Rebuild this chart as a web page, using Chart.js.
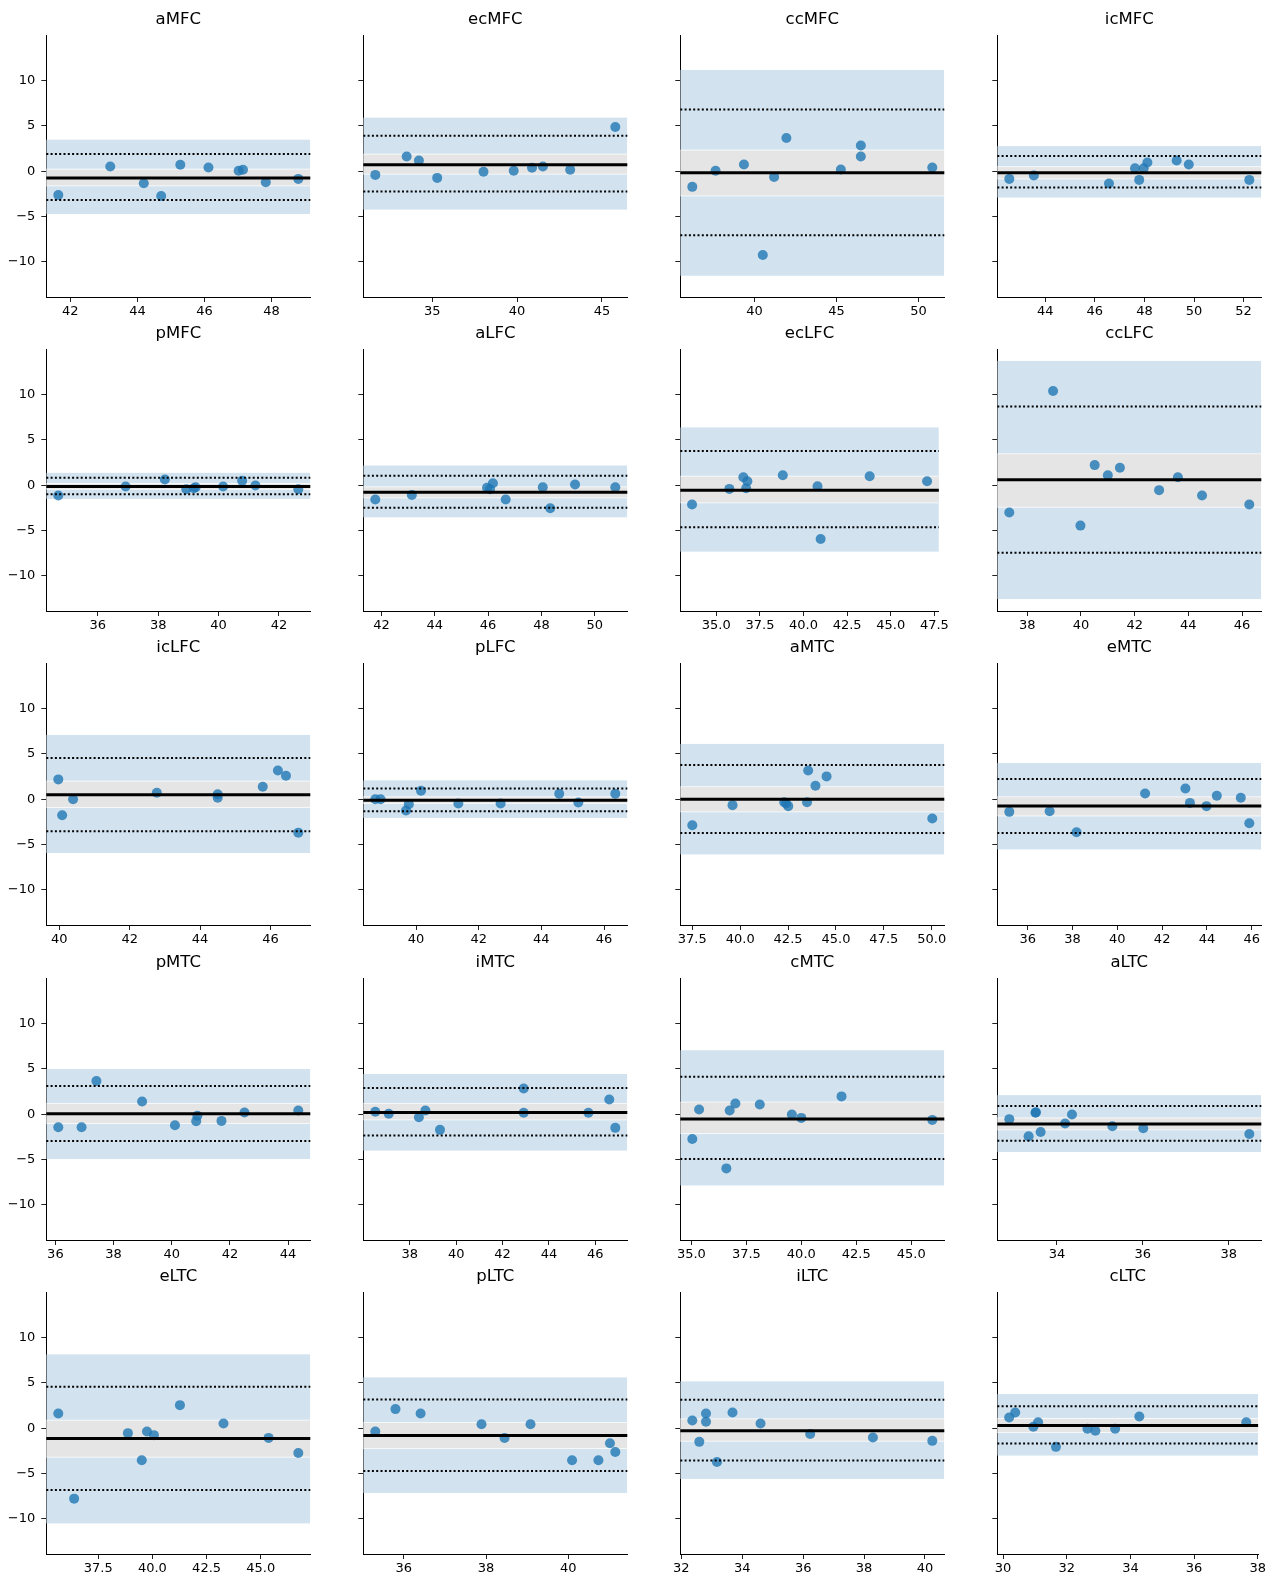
<!DOCTYPE html>
<html><head><meta charset="utf-8">
<script src="https://cdn.jsdelivr.net/npm/chart.js@4.4.0/dist/chart.umd.min.js"></script>
<style>
html,body{margin:0;padding:0;background:#fff;}
#wrap{position:relative;width:1279px;height:1580px;overflow:hidden;}
.cell{position:absolute;}
</style></head><body><div id="wrap"></div>
<script>
// ---------- DATA ----------
const panelTitles = ['aMFC','ecMFC','ccMFC','icMFC','pMFC','aLFC','ecLFC','ccLFC','icLFC','pLFC',
  'aMTC','eMTC','pMTC','iMTC','cMTC','aLTC','eLTC','pLTC','iLTC','cLTC'];

const xMeans = [
  [41.64,43.19,44.19,44.71,45.28,46.12,47.02,47.15,47.83,48.80],
  [31.64,33.49,34.21,35.29,38.02,39.80,40.88,41.52,43.13,45.79],
  [36.20,37.62,39.35,40.50,41.19,41.94,45.26,46.48,46.48,50.84],
  [42.55,43.54,46.57,47.62,47.79,47.97,48.12,49.30,49.79,52.23],
  [34.69,36.92,38.22,38.93,39.18,39.24,40.15,40.78,41.22,42.64],
  [41.77,43.14,45.96,46.07,46.18,46.66,48.05,48.33,49.26,50.77],
  [33.61,35.75,36.55,36.71,36.78,38.81,40.80,40.98,43.79,47.08],
  [37.33,38.96,39.98,40.51,41.00,41.45,42.91,43.61,44.51,46.27],
  [39.97,40.08,40.39,42.77,44.50,44.50,45.78,46.21,46.44,46.79],
  [38.70,38.87,39.68,39.77,40.16,41.35,42.70,44.57,45.18,46.36],
  [37.50,39.60,42.30,42.40,42.51,43.49,43.55,43.93,44.51,50.03],
  [35.18,36.98,38.18,41.24,43.04,43.24,43.98,44.44,45.51,45.89],
  [36.10,36.90,37.41,38.98,40.11,40.84,40.88,41.71,42.50,44.35],
  [36.51,37.09,38.39,38.67,39.30,42.91,42.91,45.70,46.60,46.86],
  [35.04,35.35,36.59,36.74,37.00,38.11,39.57,40.00,41.83,45.96],
  [32.89,33.34,33.50,33.51,33.62,34.19,34.35,35.29,36.01,38.48],
  [35.66,36.39,38.87,39.51,39.75,40.07,41.27,43.28,45.36,46.73],
  [35.31,35.80,36.41,37.89,38.45,39.08,40.09,40.73,41.01,41.14],
  [32.36,32.59,32.81,32.81,33.17,33.68,34.60,36.23,38.29,40.24],
  [30.19,30.38,30.95,31.10,31.66,32.65,32.90,33.52,34.28,37.64]
];

const yDiffs = [
  [-2.62,0.52,-1.33,-2.73,0.70,0.41,0.04,0.15,-1.22,-0.85],
  [-0.41,1.62,1.18,-0.74,-0.07,0.04,0.37,0.52,0.15,4.86],
  [-1.73,0.04,0.74,-9.25,-0.63,3.65,0.18,2.84,1.62,0.41],
  [-0.85,-0.48,-1.36,0.33,-0.96,0.33,0.96,1.18,0.74,-0.96],
  [-1.14,-0.15,0.63,-0.44,-0.33,-0.22,-0.15,0.48,-0.04,-0.44],
  [-1.58,-1.07,-0.29,-0.44,0.22,-1.58,-0.22,-2.54,0.07,-0.22],
  [-2.14,-0.41,0.88,-0.33,0.44,1.10,-0.11,-5.93,0.99,0.44],
  [-3.02,10.39,-4.46,2.21,1.10,1.92,-0.55,0.88,-1.14,-2.14],
  [2.18,-1.77,0.00,0.70,0.55,0.15,1.37,3.17,2.58,-3.69],
  [0.00,0.00,-1.25,-0.55,0.92,-0.48,-0.48,0.59,-0.37,0.59],
  [-2.88,-0.66,-0.33,-0.48,-0.77,-0.33,3.17,1.48,2.51,-2.14],
  [-1.40,-1.33,-3.65,0.63,1.18,-0.41,-0.77,0.37,0.15,-2.66],
  [-1.44,-1.44,3.65,1.40,-1.22,-0.77,-0.18,-0.74,0.18,0.41],
  [0.26,0.04,-0.33,0.41,-1.73,2.84,0.15,0.15,1.62,-1.51],
  [-2.73,0.52,-5.98,0.41,1.18,1.07,-0.04,-0.41,1.96,-0.63],
  [-0.55,-2.44,0.15,0.22,-1.96,-1.03,-0.04,-1.33,-1.55,-2.18],
  [1.62,-7.77,-0.55,-3.54,-0.37,-0.77,2.54,0.52,-1.07,-2.73],
  [-0.37,2.10,1.62,0.44,-1.07,0.44,-3.54,-3.54,-1.66,-2.62],
  [0.85,-1.51,1.62,0.70,-3.72,1.73,0.52,-0.63,-1.03,-1.40],
  [1.18,1.73,0.15,0.66,-2.06,-0.07,-0.29,-0.07,1.29,0.66]
];

const meanDiff    = [-0.74,0.70,-0.18,-0.18,-0.15,-0.77,-0.55,0.59,0.48,-0.11,0.00,-0.74,0.04,0.18,-0.52,-1.07,-1.14,-0.81,-0.29,0.29];
const upperLoA    = [1.88,3.91,6.81,1.66,0.81,1.03,3.76,8.66,4.54,1.18,3.76,2.21,3.10,2.88,4.13,0.89,4.57,3.17,3.13,2.43];
const lowerLoA    = [-3.17,-2.25,-7.07,-1.81,-0.99,-2.50,-4.64,-7.44,-3.54,-1.33,-3.73,-3.73,-2.95,-2.36,-4.94,-2.92,-6.81,-4.71,-3.57,-1.69];
const loaCITop    = [3.47,5.90,11.16,2.76,1.36,2.17,6.37,13.70,7.08,2.07,6.09,3.99,4.98,4.43,7.05,2.10,8.14,5.60,5.16,3.76];
const meanCIHigh  = [0.22,1.88,2.32,0.50,0.18,-0.18,0.99,3.46,1.99,0.26,1.37,0.26,1.18,1.18,1.33,-0.41,0.88,0.63,1.03,1.07];
const meanCILow   = [-1.62,-0.33,-2.73,-0.85,-0.45,-1.40,-1.95,-2.43,-0.92,-0.48,-1.40,-1.85,-1.03,-0.63,-2.14,-1.73,-3.20,-2.25,-1.44,-0.48];
const loaCIBottom = [-4.72,-4.24,-11.53,-2.91,-1.51,-3.54,-7.33,-12.56,-5.94,-2.07,-6.09,-5.54,-4.94,-4.02,-7.86,-4.17,-10.50,-7.15,-5.60,-3.02];

const xTickValues = [
  [42,44,46,48],[35,40,45],[40,45,50],[44,46,48,50,52],
  [36,38,40,42],[42,44,46,48,50],[35,37.5,40,42.5,45,47.5],[38,40,42,44,46],
  [40,42,44,46],[40,42,44,46],[37.5,40,42.5,45,47.5,50],[36,38,40,42,44,46],
  [36,38,40,42,44],[38,40,42,44,46],[35,37.5,40,42.5,45],[34,36,38],
  [37.5,40,42.5,45],[36,38,40],[32,34,36,38,40],[30,32,34,36,38]
];
const yTickValues = [-10,-5,0,5,10];

// ---------- LAYOUT ----------
const COLS = 4, COL_STEP = 317, ROW_STEP = 314.2;
const AXIS_W = 46.3, PLOT_W = 264, PAD_TOP = 35, PLOT_H = 262, XAX_H = 23;
const CANVAS_W = 317, CANVAS_H = PAD_TOP + PLOT_H + XAX_H;

const yLo = Math.min(...loaCIBottom), yHi = Math.max(...loaCITop);
const Y_MIN = yLo - 0.05*(yHi-yLo), Y_MAX = yHi + 0.05*(yHi-yLo);

Chart.defaults.font.family = "'DejaVu Sans', sans-serif";
Chart.defaults.font.size = 13;
Chart.defaults.color = '#000';

function fmt(v, dec){
  const s = Math.abs(v).toFixed(dec);
  return v < 0 ? '\u2212' + s : s;
}

const bandPlugin = {
  id: 'bands',
  beforeDatasetsDraw(chart, args, o){
    const {ctx, chartArea:a, scales:{y}} = chart;
    const p = o.panel;
    ctx.save();
    ctx.beginPath(); ctx.rect(a.left, a.top, a.width, a.height); ctx.clip();
    const bt = y.getPixelForValue(loaCITop[p]), bb = y.getPixelForValue(loaCIBottom[p]);
    ctx.fillStyle = '#d2e3ef';
    ctx.fillRect(a.left, bt, a.width, bb - bt);
    const gt = y.getPixelForValue(meanCIHigh[p]), gb = y.getPixelForValue(meanCILow[p]);
    ctx.fillStyle = '#e5e5e5';
    ctx.fillRect(a.left, gt, a.width, gb - gt);
    ctx.fillStyle = 'rgba(255,255,255,0.75)';
    ctx.fillRect(a.left, gt - 0.5, a.width, 1);
    ctx.fillRect(a.left, gb - 0.5, a.width, 1);
    ctx.restore();
  },
  afterDatasetsDraw(chart, args, o){
    const {ctx, chartArea:a, scales:{y}} = chart;
    const p = o.panel;
    ctx.save();
    ctx.strokeStyle = '#000';
    ctx.lineCap = 'butt';
    ctx.lineWidth = 2;
    ctx.setLineDash([2, 2.3]);
    [upperLoA[p], lowerLoA[p]].forEach(v => {
      const py = y.getPixelForValue(v);
      ctx.beginPath(); ctx.moveTo(a.left, py); ctx.lineTo(a.right, py); ctx.stroke();
    });
    ctx.setLineDash([]);
    ctx.lineWidth = 3;
    const my = y.getPixelForValue(meanDiff[p]);
    ctx.beginPath(); ctx.moveTo(a.left, my); ctx.lineTo(a.right, my); ctx.stroke();
    ctx.restore();
  },
  afterDraw(chart, args, o){
    const {ctx, chartArea:a} = chart;
    ctx.save();
    ctx.fillStyle = '#000';
    ctx.font = "16.5px 'DejaVu Sans', sans-serif";
    ctx.textAlign = 'center';
    ctx.textBaseline = 'middle';
    ctx.fillText(panelTitles[o.panel], (a.left + a.right)/2, 20);
    ctx.restore();
  }
};

const wrap = document.getElementById('wrap');
panelTitles.forEach((title, p) => {
  const c = p % COLS, r = Math.floor(p / COLS);
  const div = document.createElement('div');
  div.className = 'cell';
  div.style.left = Math.round(c*COL_STEP) + 'px';
  div.style.top = Math.round(r*ROW_STEP) + 'px';
  div.style.width = CANVAS_W + 'px';
  div.style.height = CANVAS_H + 'px';
  const cv = document.createElement('canvas');
  cv.width = CANVAS_W; cv.height = CANVAS_H;
  cv.style.width = CANVAS_W + 'px'; cv.style.height = CANVAS_H + 'px';
  div.appendChild(cv);
  wrap.appendChild(div);

  const xs = xMeans[p], ys = yDiffs[p];
  const xLo = Math.min(...xs), xHi = Math.max(...xs), xm = 0.05*(xHi - xLo);
  const xMin = xLo - xm, xMax = xHi + xm;
  const dec = xTickValues[p].some(v => v % 1 !== 0) ? 1 : 0;

  new Chart(cv, {
    type: 'scatter',
    data: { datasets: [{
      data: xs.map((x, i) => ({x, y: ys[i]})),
      backgroundColor: 'rgba(31,119,180,0.8)',
      borderWidth: 0,
      pointRadius: 5,
      pointHoverRadius: 5
    }]},
    options: {
      responsive: false, animation: false, devicePixelRatio: 1,
      layout: { padding: { top: PAD_TOP, right: CANVAS_W - AXIS_W - PLOT_W, left: 0, bottom: 0 } },
      plugins: { legend: {display:false}, tooltip: {enabled:false}, bands: {panel: p} },
      scales: {
        x: {
          type: 'linear', min: xMin, max: xMax,
          afterBuildTicks: s => { s.ticks = xTickValues[p].filter(v => v >= xMin - 0.05 && v <= xMax + 0.05).map(v => ({value: v})); },
          afterFit: s => { s.height = XAX_H; },
          ticks: { autoSkip: false, maxRotation: 0, padding: 2, color: '#000', font: {size: 13},
                   callback: v => fmt(v, dec) },
          grid: { display: true, drawOnChartArea: false, drawTicks: true, tickLength: 5, tickColor: '#222', tickWidth: 1 },
          border: { display: true, color: '#000', width: 1 }
        },
        y: {
          type: 'linear', min: Y_MIN, max: Y_MAX,
          afterBuildTicks: s => { s.ticks = yTickValues.map(v => ({value: v})); },
          afterFit: s => { s.width = AXIS_W; },
          ticks: { autoSkip: false, padding: 6, color: '#000', font: {size: 13},
                   callback: v => (c === 0 ? fmt(v, 0) : '') },
          grid: { display: true, drawOnChartArea: false, drawTicks: true, tickLength: 5, tickColor: '#222', tickWidth: 1 },
          border: { display: true, color: '#000', width: 1 }
        }
      }
    },
    plugins: [bandPlugin]
  });
});
</script>
</body></html>
